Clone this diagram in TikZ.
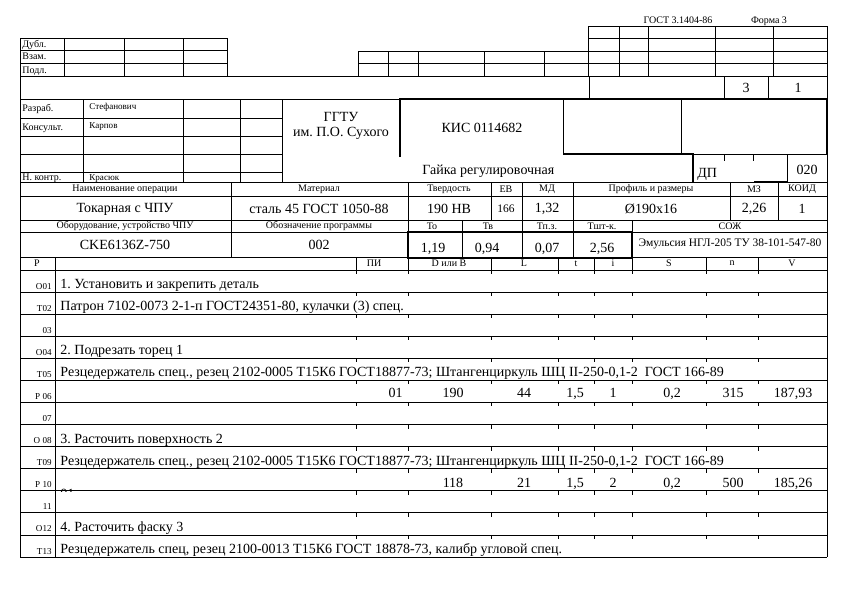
\documentclass[tikz,border=0pt]{standalone}
\usepackage{fontspec}
\setmainfont{Liberation Serif}
\usetikzlibrary{positioning,calc}
\frenchspacing

\tikzset{
  thickline/.style={line width=1.9pt},
  tiny/.style={font=\fontsize{6.8}{7}\selectfont, inner sep=0pt},
  small/.style={font=\fontsize{7.5}{8}\selectfont, inner sep=0pt},
  mid/.style={font=\fontsize{8.6}{9}\selectfont, inner sep=0pt},
  big/.style={font=\fontsize{10.5}{11}\selectfont, inner sep=0pt}
}

\begin{document}
\begin{tikzpicture}[x=0.75pt, y=-0.75pt, line width=0.6pt]
        \useasboundingbox (0,0) rectangle (854,596);

        % Stamp
        \node[small, anchor=base] (gost) at (678,23) {ГОСТ 3.1404-86};
        \node[small, anchor=base] (forma) at (769,23) {Форма 3};
        \draw (588,26) rectangle (827,76);
        \foreach \y in {38,51,63} \draw (588,\y) -- (827,\y);
        \foreach \x in {619,648,715,773} \draw (\x,26) -- (\x,76);
        \draw (358,76) -- (358,51) -- (588,51);
        \draw (358,63) -- (588,63);
        \foreach \x in {388,418,484,544} \draw (\x,51) -- (\x,76);

        % Dubl
        \draw (20,38) rectangle (227,76);
        \foreach \y in {50,63} \draw (20,\y) -- (227,\y);
        \foreach \x in {64,124,183} \draw (\x,38) -- (\x,76);
        \node[small, anchor=base west] (dubl) at (22,47.5) {Дубл.};
        \node[small, anchor=base west] (vzam) at (22,60) {Взам.};
        \node[small, anchor=base west] (podl) at (22,73) {Подл.};

        % Sheets
        \draw (20,76) -- (827,76);
        \draw (20,38) -- (20,557);
        \draw (827,26) -- (827,557);
        \foreach \x in {589,724,768} \draw (\x,76) -- (\x,99);
        \node[big] (sheets) at (746,88) {3};
        \node[big] (sheet) at (798,88) {1};

        % Signatures
        \draw (20,99) -- (400,99);
        \foreach \y in {118,136,154,172} \draw (20,\y) -- (282,\y);
        \foreach \x in {83,183,240,282} \draw (\x,99) -- (\x,182);
        \node[small, anchor=base west] (razrab) at (22,111) {Разраб.};
        \node[tiny, anchor=base west] (razrabname) at (89,109) {Стефанович};
        \node[small, anchor=base west] (kons) at (22,130) {Консульт.};
        \node[tiny, anchor=base west] (konsname) at (89,128) {Карпов};
        \node[small, anchor=base west] (nkontr) at (22,180) {Н. контр.};
        \node[tiny, anchor=base west] (nkontrname) at (89,180) {Красюк};
        \node[font=\fontsize{10.5}{11}\selectfont, align=center, inner sep=0pt] (uni) at (341,126) {ГГТУ\\им. П.О. Сухого};

        % Document code
        \draw[thickline] (400,157) -- (400,99) -- (827,99) -- (827,154);
        \draw (563,99) -- (563,154);
        \draw[thickline] (563,154) -- (693,154) -- (693,182);
        \draw (681,99) -- (681,154) -- (827,154);
        \draw (787,154) -- (787,182);
        \draw (724,154) -- (724,161);
        \draw (753,154) -- (753,161);
        \draw[thickline] (754,182) -- (787,182);
        \node[big] (code) at (482,128) {КИС 0114682};
        \node[big, anchor=base west] (part) at (422,174) {Гайка регулировочная};
        \node[big, anchor=base west] (dp) at (697,177) {ДП};
        \node[big] (opnum) at (807,170) {020};

        % Operation header
        \draw (20,182) -- (827,182);
        \foreach \y in {196,220,232,257,270} \draw (20,\y) -- (827,\y);
        \draw (231,182) -- (231,257);
        \draw (408,182) -- (408,270);
        \foreach \x in {491,778,730} \draw (\x,182) -- (\x,220);
        \foreach \x in {522,573} \draw (\x,182) -- (\x,257);
        \foreach \x in {462,632} \draw (\x,220) -- (\x,257);
        \foreach \x in {55,356,491,558,594,632,706,758} \draw (\x,257) -- (\x,270);
        \draw[thickline] (408,232) rectangle (632,258);

        \node[small] (hname) at (125,189) {Наименование операции};
        \node[small] (hmat) at (319,189) {Материал};
        \node[small] (hhard) at (449,189) {Твердость};
        \node[small] (hev) at (506,189) {ЕВ};
        \node[small] (hmd) at (547,189) {МД};
        \node[small] (hprof) at (651,189) {Профиль и размеры};
        \node[small] (hmz) at (754,189) {МЗ};
        \node[small] (hkoid) at (802,189) {КОИД};
        \node[big] (vname) at (125,209) {Токарная с ЧПУ};
        \node[big] (vmat) at (319,209) {сталь 45 ГОСТ 1050-88};
        \node[big] (vhard) at (449,209) {190 НВ};
        \node[mid] (vev) at (506,209) {166};
        \node[big] (vmd) at (547,209) {1,32};
        \node[big] (vprof) at (651,209) {Ø190x16};
        \node[big] (vmz) at (754,209) {2,26};
        \node[big] (vkoid) at (802,209) {1};

        \node[small] (hequip) at (125,226) {Оборудование, устройство ЧПУ};
        \node[small] (hprog) at (319,226) {Обозначение программы};
        \node[small] (hto) at (432,226) {То};
        \node[small] (htv) at (488,226) {Тв};
        \node[small] (htpz) at (547,226) {Тп.з.};
        \node[small] (htsht) at (602,226) {Тшт-к.};
        \node[small] (hsozh) at (730,226) {СОЖ};
        \node[big] (vequip) at (125,245) {CKE6136Z-750};
        \node[big] (vprog) at (319,245) {002};
        \node[big] (vto) at (433,249) {1,19};
        \node[big] (vtv) at (487,249) {0,94};
        \node[big] (vtpz) at (547,249) {0,07};
        \node[big] (vtsht) at (602,249) {2,56};
        \node[mid] (vsozh) at (730,244) {Эмульсия НГЛ-205 ТУ 38-101-547-80};

        \node[small] (hp) at (37,263.5) {Р};
        \node[small] (hpi) at (374,263.5) {ПИ};
        \node[small] (hd) at (449,263.5) {D или B};
        \node[small] (hl) at (524,263.5) {L};
        \node[small] (ht) at (576,263.5) {t};
        \node[small] (hi) at (613,263.5) {i};
        \node[small] (hs) at (669,263.5) {S};
        \node[small] (hn) at (732,263.5) {n};
        \node[small] (hv) at (792,263.5) {V};

        % Rows
        \draw (55,270) -- (55,557);
        \foreach \i in {1,...,13} \draw (20,{270+22.08*\i}) -- (827,{270+22.08*\i});
        \foreach \i in {0,...,12} {
            \foreach \x in {356,408,491,558,594,632,706,758}
                \draw (\x,{270+22.08*\i}) -- ++(0,4);
        }
        \foreach \i/\lab in {1/О01,2/Т02,3/03,4/О04,5/Т05,6/Р 06,7/07,8/О 08,9/Т09,10/Р 10,11/11,12/О12,13/Т13}
            \node[tiny, anchor=base east] (row\i) at (52,{270+22.08*\i-3}) {\lab};

        \node[big, anchor=base west] (op1) at (60,288.5) {1. Установить и закрепить деталь};
        \node[big, anchor=base west] (tool1) at (60,310.5) {Патрон 7102-0073 2-1-п ГОСТ24351-80, кулачки (3) спец.};
        \node[big, anchor=base west] (op2) at (60,354.5) {2. Подрезать торец 1};
        \node[big, anchor=base west] (tool2) at (60,376.5) {Резцедержатель спец., резец 2102-0005 Т15К6 ГОСТ18877-73; Штангенциркуль ШЦ II-250-0,1-2~~ГОСТ 166-89};
        \node[big, anchor=base west] (op3) at (60,443) {3. Расточить поверхность 2};
        \node[big, anchor=base west] (tool3) at (60,465) {Резцедержатель спец., резец 2102-0005 Т15К6 ГОСТ18877-73; Штангенциркуль ШЦ II-250-0,1-2~~ГОСТ 166-89};
        \node[big, anchor=base west] (op4) at (60,531.5) {4. Расточить фаску 3};
        \node[big, anchor=base west] (tool4) at (60,553.5) {Резцедержатель спец, резец 2100-0013 Т15К6 ГОСТ 18878-73, калибр угловой спец.};

        % Modes
        \node[big, anchor=base east] (pi6) at (403,397.5) {01};
        \foreach \x/\v [count=\k] in {453/190,524/44,575/{1,5},613/1,672/{0,2},733/315,793/{187,93}}
            \node[big, anchor=base] (m6\k) at (\x,397.5) {\v};
        \begin{scope}
            \clip (55,469) rectangle (120,491);
            \node[big, anchor=base west] (pi10) at (60,498) {01};
        \end{scope}
        \foreach \x/\v [count=\k] in {453/118,524/21,575/{1,5},613/2,672/{0,2},733/500,793/{185,26}}
            \node[big, anchor=base] (m10\k) at (\x,487.5) {\v};
    \end{tikzpicture}
\end{document}
